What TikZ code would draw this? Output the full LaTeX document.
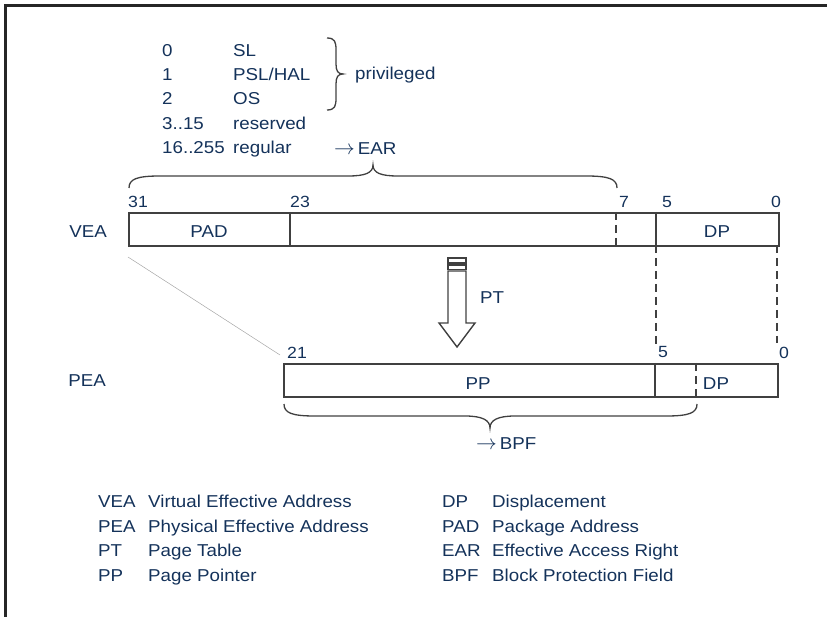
\documentclass[tikz,border=0pt]{standalone}
\usepackage{fontspec}
\setmainfont{Liberation Sans}[FakeStretch=1.09]
\definecolor{txt}{RGB}{20,50,90}
\definecolor{ln}{RGB}{64,64,64}
\tikzset{
  lbl/.style={text=txt, inner sep=0pt, anchor=base west, font=\fontsize{17.2}{20}\selectfont},
  bitno/.style={lbl, font=\fontsize{16.2}{18}\selectfont},
  fieldbox/.style={draw=ln, line width=1.6pt, inner sep=0pt, anchor=north west},
  fieldln/.style={draw=ln, line width=1.6pt},
  dashln/.style={draw=ln, line width=1.6pt, dash pattern=on 8pt off 5pt},
  bracepath/.style={draw=ln, line width=1.3pt},
  frameln/.style={draw=black!85, line width=2.5pt},
}
\newcommand{\myarr}{{\fontsize{21}{21}\selectfont$\rightarrow$}}
\begin{document}
\begin{tikzpicture}[x=1pt,y=-1pt]
\useasboundingbox (0,0) rectangle (827,617);
% frame
\draw[frameln] (5.3,617) -- (5.3,5.3) -- (827,5.3);

% top list
\node[lbl] (n0) at (162,57) {0};
\node[lbl] (sl) at (233,57) {SL};
\node[lbl] (n1) at (162,81) {1};
\node[lbl] (psl) at (233,81) {PSL/HAL};
\node[lbl] (n2) at (162,105) {2};
\node[lbl] (os) at (233,105) {OS};
\node[lbl] (n3) at (162,130) {3..15};
\node[lbl] (res) at (233,130) {reserved};
\node[lbl] (n16) at (162,154) {16..255};
\node[lbl] (reg) at (233,154) {regular};
\node[lbl] (priv) at (355,80) {privileged};
\node[lbl] (ear) at (334,155) {\myarr\,EAR};
% small brace
\draw[bracepath] (327,38) .. controls (335,38) and (336,42) .. (336,50) -- (336,64)
  .. controls (336,71) and (338,74) .. (343,74)
  .. controls (338,74) and (336,77) .. (336,84) -- (336,98)
  .. controls (336,106) and (335,110) .. (327,110);

% big upper brace
\draw[bracepath] (129,188) .. controls (129,179) and (137,176) .. (160,176) -- (348,176)
  .. controls (365,176) and (373,173) .. (373,165)
  .. controls (373,173) and (381,176) .. (398,176) -- (586,176)
  .. controls (609,176) and (617,179) .. (617,188);

% VEA
\node[lbl, anchor=base east] (vealbl) at (107,238) {VEA};
\node[fieldbox, minimum width=650pt, minimum height=33pt] (vea) at (128,212) {};
\draw[fieldln] (290,212) -- (290,245);
\draw[fieldln] (656,212) -- (656,245);
\draw[dashln] (616,212) -- (616,245);
\node[lbl, anchor=base] (pad) at (209,238) {PAD};
\node[lbl, anchor=base] (dpv) at (717,238) {DP};
\node[bitno] (b31) at (128,208) {31};
\node[bitno] (b23) at (290,208) {23};
\node[bitno] (b7) at (619,208) {7};
\node[bitno] (b5) at (662,208) {5};
\node[bitno] (b0) at (771,208) {0};

% dashed projections
\coordinate (d5a) at (656,245);
\coordinate (d5b) at (656,345);
\coordinate (d0a) at (777,245);
\coordinate (d0b) at (777,343);
\draw[dashln] (d5a) -- (d5b);
\draw[dashln] (d0a) -- (d0b);

% thin line
\coordinate (ta) at (128,257);
\coordinate (tb) at (280,355);
\draw[gray!70, line width=0.5pt] (ta) -- (tb);

% PT arrow
\draw[draw=ln, line width=1.4pt] (448,258) rectangle (466,263);
\draw[draw=ln, line width=1.4pt] (448,265) rectangle (466,269.5);
\draw[draw=ln, line width=1.4pt, line join=miter] (448,271) -- (448,323) -- (439,323) -- (457,347) -- (475,323) -- (466,323) -- (466,271) -- cycle;
\node[lbl] (pt) at (480,304) {PT};

% PEA
\node[lbl, anchor=base east] (pealbl) at (106,387) {PEA};
\node[fieldbox, minimum width=494pt, minimum height=33pt] (pea) at (283,363) {};
\draw[fieldln] (655,363) -- (655,396);
\draw[dashln] (696,363) -- (696,397);
\node[lbl, anchor=base] (pp) at (478,389) {PP};
\node[lbl, anchor=base] (dpp) at (716,389) {DP};
\node[bitno] (b21) at (287,359) {21};
\node[bitno] (p5) at (658,358) {5};
\node[bitno] (p0) at (779,359) {0};

% lower brace
\draw[bracepath] (284,404) .. controls (284,413) and (292,416) .. (315,416) -- (465,416)
  .. controls (482,416) and (490,420) .. (490,428)
  .. controls (490,420) and (498,416) .. (515,416) -- (666,416)
  .. controls (689,416) and (697,413) .. (697,404);
\node[lbl] (bpf) at (476,449) {\myarr\,BPF};

% legend
\node[lbl] (l1a) at (98,507) {VEA};
\node[lbl] (l1b) at (148,507) {Virtual Effective Address};
\node[lbl] (l2a) at (98,532) {PEA};
\node[lbl] (l2b) at (148,532) {Physical Effective Address};
\node[lbl] (l3a) at (98,556) {PT};
\node[lbl] (l3b) at (148,556) {Page Table};
\node[lbl] (l4a) at (98,581) {PP};
\node[lbl] (l4b) at (148,581) {Page Pointer};
\node[lbl] (r1a) at (442,507) {DP};
\node[lbl] (r1b) at (492,507) {Displacement};
\node[lbl] (r2a) at (442,532) {PAD};
\node[lbl] (r2b) at (492,532) {Package Address};
\node[lbl] (r3a) at (442,556) {EAR};
\node[lbl] (r3b) at (492,556) {Effective Access Right};
\node[lbl] (r4a) at (442,581) {BPF};
\node[lbl] (r4b) at (492,581) {Block Protection Field};
\end{tikzpicture}
\end{document}
